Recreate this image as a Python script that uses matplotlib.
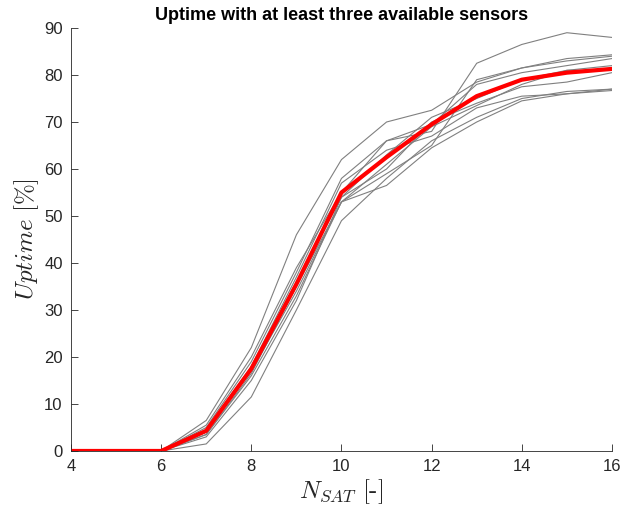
import numpy as np
import matplotlib
matplotlib.use("Agg")
import matplotlib.pyplot as plt

plt.rcParams['font.family'] = ['Liberation Sans', 'DejaVu Sans']
plt.rcParams['mathtext.fontset'] = 'cm'

n_sat = [4, 5, 6, 7, 8, 9, 10, 11, 12, 13, 14, 15, 16]

# individual runs (gray)
runs = [
    [0, 0, 0, 6.5, 22.0, 46.0, 62.0, 70.0, 72.5, 78.5, 81.5, 83.5, 84.3],
    [0, 0, 0, 5.0, 19.0, 38.0, 58.0, 66.0, 68.0, 82.5, 86.5, 89.0, 88.0],
    [0, 0, 0, 4.0, 17.0, 34.0, 53.0, 59.0, 65.0, 79.0, 81.5, 83.0, 84.0],
    [0, 0, 0, 3.0, 15.0, 32.0, 54.0, 60.0, 70.0, 74.0, 77.5, 78.5, 80.5],
    [0, 0, 0, 1.5, 11.5, 30.0, 49.0, 58.0, 66.0, 71.0, 75.0, 76.5, 77.0],
    [0, 0, 0, 4.5, 18.0, 37.0, 57.0, 64.0, 67.0, 73.0, 75.5, 76.0, 76.7],
    [0, 0, 0, 3.5, 16.0, 33.0, 53.0, 56.5, 64.5, 70.0, 74.5, 76.0, 77.0],
    [0, 0, 0, 4.0, 17.5, 36.0, 54.0, 63.0, 71.0, 75.0, 79.0, 81.0, 82.0],
    [0, 0, 0, 5.5, 20.0, 39.0, 55.0, 66.0, 69.5, 78.0, 80.5, 82.0, 83.5],
    [0, 0, 0, 3.5, 16.5, 35.0, 53.0, 61.0, 69.0, 73.5, 78.0, 81.0, 81.0],
]

# mean uptime (red)
mean_uptime = [0, 0, 0, 4.3, 17.5, 35.5, 55.0, 62.5, 69.5, 75.5, 79.0, 80.5, 81.3]

fig = plt.figure(figsize=(6.2, 5.14), dpi=100)
ax = fig.add_axes([0.1145, 0.1226, 0.8725, 0.8229])

for r in runs:
    ax.plot(n_sat, r, color='#808080', linewidth=0.8)
ax.plot(n_sat, mean_uptime, color='red', linewidth=3)

ax.set_xlim(4, 16)
ax.set_ylim(0, 90)
ax.set_xticks(range(4, 17, 2))
ax.set_yticks(range(0, 91, 10))

axis_col = '#262626'
for s in ['top', 'right']:
    ax.spines[s].set_visible(False)
for s in ['left', 'bottom']:
    ax.spines[s].set_color(axis_col)
    ax.spines[s].set_linewidth(0.6)
ax.tick_params(direction='in', length=5, width=0.6, colors=axis_col,
               labelsize=12, pad=6)

ax.set_title('Uptime with at least three available sensors',
             fontsize=13, fontweight='bold', pad=6)
ax.set_xlabel(r'$N_{SAT}\ [\text{-}]$', fontsize=18, labelpad=2, color=axis_col)
ax.set_ylabel(r'$Uptime\ [\%]$', fontsize=18, labelpad=2, color=axis_col)

fig.savefig('out.png', dpi=100)
